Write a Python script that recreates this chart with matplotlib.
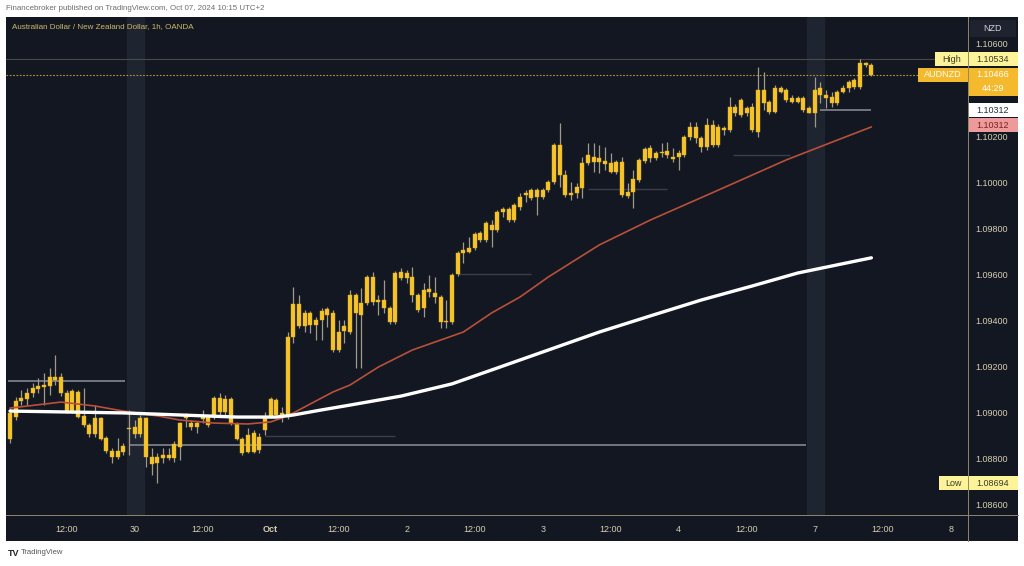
import matplotlib
matplotlib.use("Agg")
import matplotlib.pyplot as plt
import matplotlib.patches as patches
import matplotlib.transforms as mtransforms
import numpy as np

# AUDNZD 1h candles (index 0 = Sep 27 02:00, UTC+2)
opens = [1.08886, 1.08981, 1.09051, 1.09059, 1.09085, 1.09103, 1.09111, 1.09116, 1.09142, 1.09155,
         1.09085, 1.09007, 1.09090, 1.08986, 1.08947, 1.08907, 1.08977, 1.08890, 1.08834, 1.08808,
         1.08829, 1.08929, 1.08938, 1.08907, 1.08977, 1.08808, 1.08782, 1.08803, 1.08816, 1.08803,
         1.08851, 1.08977, 1.08955, 1.08938, 1.08973, 1.08981, 1.08981, 1.09064, 1.09003, 1.09059,
         1.08951, 1.08886, 1.08829, 1.08912, 1.08838, 1.08925, 1.08981, 1.09055, 1.08999, 1.08981,
         1.09328, 1.09472, 1.09376, 1.09433, 1.09381, 1.09402, 1.09424, 1.09433, 1.09272, 1.09376,
         1.09350, 1.09511, 1.09424, 1.09476, 1.09589, 1.09480, 1.09489, 1.09454, 1.09394, 1.09611,
         1.09585, 1.09589, 1.09511, 1.09454, 1.09524, 1.09519, 1.09502, 1.09394, 1.09394, 1.09602,
         1.09693, 1.09697, 1.09715, 1.09780, 1.09749, 1.09815, 1.09793, 1.09871, 1.09884, 1.09836,
         1.09893, 1.09945, 1.09966, 1.09936, 1.09966, 1.09966, 1.10001, 1.10162, 1.10032, 1.09953,
         1.09953, 1.09975, 1.10084, 1.10110, 1.10088, 1.10092, 1.10084, 1.10045, 1.10088, 1.09940,
         1.09958, 1.10010, 1.10092, 1.10149, 1.10105, 1.10127, 1.10136, 1.10110, 1.10110, 1.10118,
         1.10196, 1.10240, 1.10192, 1.10153, 1.10249, 1.10162, 1.10236, 1.10227, 1.10327, 1.10292,
         1.10322, 1.10327, 1.10218, 1.10400, 1.10348, 1.10305, 1.10409, 1.10400, 1.10366, 1.10348,
         1.10366, 1.10322, 1.10301, 1.10409, 1.10379, 1.10344, 1.10344, 1.10392, 1.10409, 1.10413,
         1.10413, 1.10518, 1.10509]
highs = [1.09020, 1.09068, 1.09098, 1.09107, 1.09129, 1.09151, 1.09172, 1.09194, 1.09250, 1.09172,
         1.09098, 1.09103, 1.09098, 1.09107, 1.08955, 1.09033, 1.08981, 1.08899, 1.08847, 1.08890,
         1.08868, 1.09012, 1.08968, 1.08990, 1.08981, 1.08847, 1.08825, 1.08847, 1.08847, 1.08877,
         1.08960, 1.08999, 1.08968, 1.08964, 1.09012, 1.08990, 1.09072, 1.09085, 1.09077, 1.09068,
         1.08960, 1.08894, 1.08933, 1.08925, 1.08912, 1.09003, 1.09068, 1.09064, 1.09025, 1.09350,
         1.09545, 1.09511, 1.09446, 1.09440, 1.09415, 1.09454, 1.09459, 1.09446, 1.09402, 1.09402,
         1.09532, 1.09519, 1.09541, 1.09598, 1.09611, 1.09511, 1.09576, 1.09463, 1.09615, 1.09628,
         1.09619, 1.09632, 1.09519, 1.09563, 1.09598, 1.09589, 1.09511, 1.09489, 1.09606, 1.09702,
         1.09741, 1.09762, 1.09784, 1.09789, 1.09832, 1.09836, 1.09880, 1.09893, 1.09893, 1.09910,
         1.09953, 1.09966, 1.09975, 1.09975, 1.09975, 1.10010, 1.10170, 1.10257, 1.10053, 1.10001,
         1.09997, 1.10110, 1.10170, 1.10170, 1.10162, 1.10153, 1.10127, 1.10097, 1.10110, 1.09997,
         1.10053, 1.10105, 1.10153, 1.10162, 1.10136, 1.10170, 1.10175, 1.10149, 1.10140, 1.10205,
         1.10262, 1.10262, 1.10201, 1.10279, 1.10270, 1.10253, 1.10244, 1.10370, 1.10340, 1.10366,
         1.10331, 1.10344, 1.10500, 1.10479, 1.10357, 1.10422, 1.10418, 1.10409, 1.10379, 1.10374,
         1.10374, 1.10331, 1.10457, 1.10435, 1.10400, 1.10392, 1.10400, 1.10422, 1.10444, 1.10453,
         1.10534, 1.10522, 1.10518]
lows = [1.08868, 1.08968, 1.09033, 1.09033, 1.09068, 1.09085, 1.09033, 1.09077, 1.09120, 1.09072,
        1.08999, 1.08999, 1.08977, 1.08938, 1.08894, 1.08894, 1.08881, 1.08825, 1.08782, 1.08799,
        1.08816, 1.08816, 1.08890, 1.08894, 1.08764, 1.08730, 1.08694, 1.08782, 1.08795, 1.08786,
        1.08795, 1.08938, 1.08925, 1.08912, 1.08955, 1.08938, 1.08973, 1.08981, 1.08981, 1.08947,
        1.08881, 1.08816, 1.08825, 1.08825, 1.08825, 1.08903, 1.08977, 1.08981, 1.08960, 1.08973,
        1.09302, 1.09368, 1.09350, 1.09346, 1.09315, 1.09315, 1.09372, 1.09265, 1.09263, 1.09302,
        1.09341, 1.09194, 1.09194, 1.09467, 1.09467, 1.09424, 1.09433, 1.09385, 1.09385, 1.09576,
        1.09563, 1.09480, 1.09437, 1.09415, 1.09502, 1.09476, 1.09368, 1.09368, 1.09385, 1.09593,
        1.09650, 1.09693, 1.09706, 1.09741, 1.09741, 1.09719, 1.09784, 1.09849, 1.09828, 1.09828,
        1.09880, 1.09914, 1.09923, 1.09858, 1.09927, 1.09958, 1.09992, 1.09979, 1.09936, 1.09923,
        1.09932, 1.09932, 1.10075, 1.10045, 1.10040, 1.10053, 1.10040, 1.10036, 1.09936, 1.09932,
        1.09888, 1.10001, 1.10084, 1.10088, 1.10097, 1.10110, 1.10105, 1.10088, 1.10053, 1.10110,
        1.10183, 1.10170, 1.10131, 1.10140, 1.10153, 1.10153, 1.10205, 1.10218, 1.10288, 1.10283,
        1.10288, 1.10218, 1.10196, 1.10314, 1.10296, 1.10301, 1.10387, 1.10348, 1.10344, 1.10344,
        1.10305, 1.10301, 1.10240, 1.10344, 1.10322, 1.10327, 1.10335, 1.10387, 1.10392, 1.10405,
        1.10405, 1.10500, 1.10461]
closes = [1.08999, 1.09051, 1.09064, 1.09085, 1.09107, 1.09116, 1.09120, 1.09155, 1.09155, 1.09085,
          1.09007, 1.09094, 1.08981, 1.08947, 1.08907, 1.08977, 1.08886, 1.08834, 1.08808, 1.08834,
          1.08855, 1.08933, 1.08907, 1.08977, 1.08808, 1.08777, 1.08808, 1.08816, 1.08803, 1.08864,
          1.08955, 1.08986, 1.08938, 1.08955, 1.08981, 1.08947, 1.09064, 1.09003, 1.09059, 1.08955,
          1.08886, 1.08825, 1.08903, 1.08829, 1.08894, 1.08977, 1.09059, 1.08990, 1.08981, 1.09328,
          1.09472, 1.09376, 1.09433, 1.09381, 1.09402, 1.09441, 1.09450, 1.09272, 1.09350, 1.09355,
          1.09511, 1.09433, 1.09476, 1.09589, 1.09480, 1.09489, 1.09454, 1.09394, 1.09606, 1.09585,
          1.09606, 1.09511, 1.09446, 1.09532, 1.09537, 1.09502, 1.09394, 1.09398, 1.09598, 1.09693,
          1.09706, 1.09715, 1.09775, 1.09749, 1.09823, 1.09793, 1.09871, 1.09884, 1.09836, 1.09901,
          1.09936, 1.09953, 1.09932, 1.09966, 1.09936, 1.10001, 1.10162, 1.10032, 1.09945, 1.09945,
          1.09979, 1.10084, 1.10118, 1.10088, 1.10105, 1.10079, 1.10045, 1.10088, 1.09945, 1.09958,
          1.10014, 1.10097, 1.10144, 1.10105, 1.10127, 1.10131, 1.10118, 1.10101, 1.10127, 1.10196,
          1.10240, 1.10192, 1.10153, 1.10249, 1.10162, 1.10240, 1.10227, 1.10327, 1.10301, 1.10357,
          1.10301, 1.10227, 1.10400, 1.10344, 1.10305, 1.10409, 1.10392, 1.10357, 1.10348, 1.10366,
          1.10314, 1.10301, 1.10400, 1.10379, 1.10366, 1.10370, 1.10392, 1.10409, 1.10435, 1.10444,
          1.10518, 1.10509, 1.10466]

# moving averages read at a few candles
ma_fast_idx = [0, 9, 15, 20, 26, 30, 36, 42, 46, 48, 50, 53, 57, 60, 65, 71, 77, 80, 85, 90, 95, 104, 113, 125, 137, 146, 152]
ma_fast_val = [1.09020, 1.09046, 1.09029, 1.09007, 1.08986, 1.08968, 1.08955, 1.08951, 1.08960, 1.08977,
               1.08999, 1.09038, 1.09090, 1.09120, 1.09198, 1.09272, 1.09324, 1.09350, 1.09433, 1.09502,
               1.09589, 1.09728, 1.09836, 1.09966, 1.10097, 1.10183, 1.10240]
ma_slow_idx = [0, 10, 20, 30, 40, 47, 50, 55, 60, 69, 78, 86, 95, 104, 113, 122, 131, 139, 152]
ma_slow_val = [1.09007, 1.09003, 1.08999, 1.08990, 1.08981, 1.08981, 1.08990, 1.09012, 1.09033, 1.09072,
               1.09125, 1.09194, 1.09272, 1.09350, 1.09420, 1.09489, 1.09550, 1.09606, 1.09672]

# horizontal levels: (start candle, end candle, price)
levels_main = [(-0.4, 20.3, 1.09138), (21.0, 140.5, 1.08860), (143.0, 152.0, 1.10312)]
levels_faint = [(45, 68, 1.08899), (79, 92, 1.09602), (102, 116, 1.09971), (127.5, 137.6, 1.10118)]

tick_pos = [10, 22, 34, 46, 58, 70, 82, 94, 106, 118, 130, 142, 154, 166]
tick_labels = ["12:00", "30", "12:00", "Oct", "12:00", "2", "12:00", "3", "12:00", "4", "12:00", "7", "12:00", "8"]
session_breaks = [22, 142]
price_ticks = [1.086, 1.088, 1.090, 1.092, 1.094, 1.096, 1.098, 1.100, 1.102, 1.106]

high_price = 1.10534
low_price = 1.08694
last_price = 1.10466
level_price = 1.10312

W, H = 1024, 566
bg = "#131722"
gold = "#f6c42a"
wick = "#a09a88"
axis_txt = "#d6cfb2"
font = ["Liberation Sans", "DejaVu Sans"]
plt.rcParams["font.family"] = font

fig = plt.figure(figsize=(W / 100, H / 100), dpi=100)
fig.patch.set_facecolor("white")
fig.patches.append(patches.Rectangle((6 / W, 1 - 541 / H), 1012 / W, 524 / H, transform=fig.transFigure,
                                     facecolor=bg, edgecolor="none", zorder=-5))

ax = fig.add_axes([6 / W, 1 - 515 / H, 962 / W, 498 / H])
ax.set_facecolor(bg)
ymin, ymax = 1.08556, 1.10717
ax.set_xlim(-0.706, 169.05)
ax.set_ylim(ymin, ymax)
for s in ax.spines.values():
    s.set_visible(False)

dpp = (ymax - ymin) / 498.0
ppx = 1.0 / 962.0

for b in session_breaks:
    ax.axvspan(b - 1.3, b + 1.9, color="#1f2431", lw=0, zorder=0.5)

for x0, x1, p in levels_main:
    ax.hlines(p, x0, x1, color="#7c7e86", lw=1.3, zorder=2)
for x0, x1, p in levels_faint:
    ax.hlines(p, x0, x1, color="#3b3f4b", lw=1.0, zorder=2)
ax.axhline(high_price, color="#4a4a44", lw=0.8, zorder=1.5)
ax.axhline(last_price, color="#b89a3a", lw=0.8, ls=(0, (1.5, 1.5)), zorder=1.5)

idx = np.arange(len(opens))
o = np.array(opens)
c = np.array(closes)
lo = np.minimum(o, c)
hgt = np.maximum(np.abs(c - o), 0.00005)
ax.vlines(idx, lows, highs, color=wick, lw=0.9, zorder=3)
ax.bar(idx, hgt, bottom=lo, width=0.74, color=gold, edgecolor="#e0ae1c", lw=0.3, zorder=4)

ax.plot(ma_fast_idx, ma_fast_val, color="#b9503a", lw=1.2, zorder=5, solid_capstyle="round")
ax.plot(ma_slow_idx, ma_slow_val, color="white", lw=2.4, zorder=5, solid_capstyle="round")

# axes
ax.yaxis.tick_right()
ax.set_yticks(price_ticks, [f"{p:.5f}" for p in price_ticks])
ax.tick_params(axis="y", length=0, pad=5, labelsize=6.5, labelcolor=axis_txt)
ax.set_xticks(tick_pos, tick_labels)
ax.tick_params(axis="x", length=0, pad=7, labelsize=6.5, labelcolor=axis_txt)
for lab in ax.get_xticklabels():
    if lab.get_text() == "Oct":
        lab.set_fontweight("bold")

# separators of price and time scales
fig.add_artist(plt.Line2D([968 / W, 968 / W], [1 - 17 / H, 1 - 541 / H], color="#8f876c", lw=0.7))
fig.add_artist(plt.Line2D([6 / W, 1018 / W], [1 - 515 / H, 1 - 515 / H], color="#8f876c", lw=0.7))

tr = mtransforms.blended_transform_factory(ax.transAxes, ax.transData)


def tag(x0, x1, price, text, fc, tc, dy=0, h=14, fs=6.5):
    yc = price - dy * dpp
    ax.add_patch(patches.Rectangle((1 + x0 * ppx, yc - h / 2 * dpp), (x1 - x0) * ppx, h * dpp, transform=tr,
                                   facecolor=fc, edgecolor="none", clip_on=False, zorder=10))
    ax.text(1 + (x0 + x1) / 2 * ppx, yc, text, transform=tr, ha="center", va="center", fontsize=fs,
            color=tc, clip_on=False, zorder=11)


# NZD header
ax.add_patch(patches.Rectangle((1 + 2 * ppx, ymax - 20 * dpp), 46 * ppx, 17 * dpp, transform=tr,
                               facecolor="#1f2330", edgecolor="none", clip_on=False, zorder=10))
ax.text(1 + 25 * ppx, ymax - 11.5 * dpp, "NZD", transform=tr, ha="center", va="center", fontsize=6.5,
        color="#d1d4dc", clip_on=False, zorder=11)

tag(-33, 0, high_price, "High", "#fdf49a", "#3c3a28")
tag(0, 50, high_price, f"{high_price:.5f}", "#fdf49a", "#3c3a28")
tag(-50, 0, last_price, "AUDNZD", "#f5b92e", "white")
ax.add_patch(patches.Rectangle((1, last_price - 21 * dpp), 50 * ppx, 28 * dpp, transform=tr,
                               facecolor="#f5b92e", edgecolor="none", clip_on=False, zorder=10))
ax.text(1 + 25 * ppx, last_price, f"{last_price:.5f}", transform=tr, ha="center", va="center",
        fontsize=6.5, color="white", clip_on=False, zorder=11)
ax.text(1 + 25 * ppx, last_price - 14 * dpp, "44:29", transform=tr, ha="center", va="center",
        fontsize=6.5, color="white", clip_on=False, zorder=11)
tag(0, 50, level_price, f"{level_price:.5f}", "white", "#2a2e39")
tag(0, 50, level_price, f"{level_price:.5f}", "#ef9a9a", "#7a1f1f", dy=15)
tag(-29, 0, low_price, "Low", "#fdf49a", "#3c3a28")
tag(0, 50, low_price, f"{low_price:.5f}", "#fdf49a", "#3c3a28")

fig.text(6 / W, 1 - 8 / H, "Financebroker published on TradingView.com, Oct 07, 2024 10:15 UTC+2",
         fontsize=5.7, color="#6d6d6d", ha="left", va="center")
fig.text(12 / W, 1 - 27 / H, "Australian Dollar / New Zealand Dollar, 1h, OANDA",
         fontsize=5.8, color="#cdb96a", ha="left", va="center")
fig.text(8 / W, 1 - 553 / H, "TV", fontsize=6.5, fontweight="bold", color="#222222", ha="left", va="center")
fig.text(21 / W, 1 - 553 / H, "TradingView", fontsize=5.5, color="#555555", ha="left", va="center")

fig.savefig("out.png", dpi=100, facecolor="white")
